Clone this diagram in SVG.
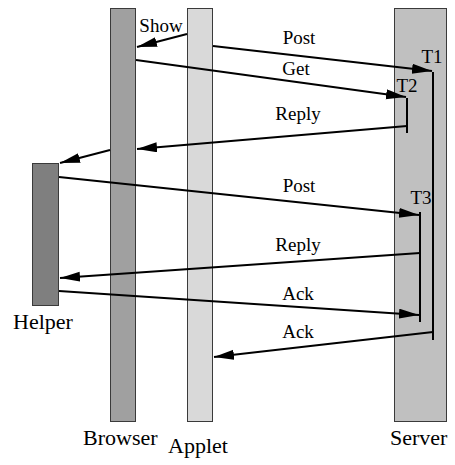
<svg xmlns="http://www.w3.org/2000/svg" width="455" height="465" viewBox="0 0 455 465">
  <defs>
    <marker id="arrow" markerUnits="userSpaceOnUse" markerWidth="22" markerHeight="12" refX="20" refY="5" orient="auto">
      <path d="M0,0 L20,5 L0,10 z" fill="#000"/>
    </marker>
  </defs>
  <style>
    text { font-family: 'Liberation Serif', 'DejaVu Serif', serif; fill: #000; }
    .bar { stroke: #3a3a3a; stroke-width: 1; }
    .name { font-size: 22px; }
    .lbl { font-size: 19px; text-anchor: middle; }
    .msg { stroke: #000; stroke-width: 2; fill: none; marker-end: url(#arrow); }
    .act { stroke: #000; stroke-width: 2; fill: none; }
  </style>
  <rect width="455" height="465" fill="#fff"/>

  <g id="browser">
    <rect class="bar" x="110.5" y="8.5" width="25" height="413" fill="#a0a0a0"/>
    <text class="name" x="83" y="445" font-family="Liberation Serif">Browser</text>
  </g>
  <g id="applet">
    <rect class="bar" x="187.5" y="8.5" width="25" height="413" fill="#d9d9d9"/>
    <text class="name" x="168" y="453" font-family="Liberation Serif">Applet</text>
  </g>
  <g id="server">
    <rect class="bar" x="394.5" y="8.5" width="52" height="413" fill="#c0c0c0"/>
    <text class="name" x="390" y="445" font-family="Liberation Serif">Server</text>
  </g>
  <g id="helper">
    <rect class="bar" x="32.5" y="163.5" width="26" height="142" fill="#7f7f7f"/>
    <text class="name" x="13" y="329" font-family="Liberation Serif">Helper</text>
  </g>

  <g id="activations">
    <line class="act" x1="433" y1="72" x2="433" y2="340"/>
    <text class="lbl" x="432" y="63">T1</text>
    <line class="act" x1="407" y1="98" x2="407" y2="133"/>
    <text class="lbl" x="407" y="92">T2</text>
    <line class="act" x1="420" y1="212" x2="420" y2="322"/>
    <text class="lbl" x="421" y="204">T3</text>
  </g>

  <g id="connectors">
    <line class="msg" x1="187" y1="34" x2="137" y2="47"/>
    <text class="lbl" x="161" y="32">Show</text>

    <line class="msg" x1="213" y1="46" x2="432" y2="71"/>
    <text class="lbl" x="299" y="44">Post</text>

    <line class="msg" x1="136" y1="60" x2="406" y2="97"/>
    <text class="lbl" x="296" y="75">Get</text>

    <line class="msg" x1="407" y1="126" x2="137" y2="149"/>
    <text class="lbl" x="298" y="120">Reply</text>

    <line class="msg" x1="110" y1="150" x2="60" y2="163"/>

    <line class="msg" x1="59" y1="177" x2="419" y2="215"/>
    <text class="lbl" x="299" y="192">Post</text>

    <line class="msg" x1="420" y1="253" x2="60" y2="278"/>
    <text class="lbl" x="298" y="251">Reply</text>

    <line class="msg" x1="59" y1="291" x2="419" y2="315"/>
    <text class="lbl" x="298" y="300">Ack</text>

    <line class="msg" x1="433" y1="332" x2="214" y2="357"/>
    <text class="lbl" x="298" y="338">Ack</text>
  </g>
</svg>
